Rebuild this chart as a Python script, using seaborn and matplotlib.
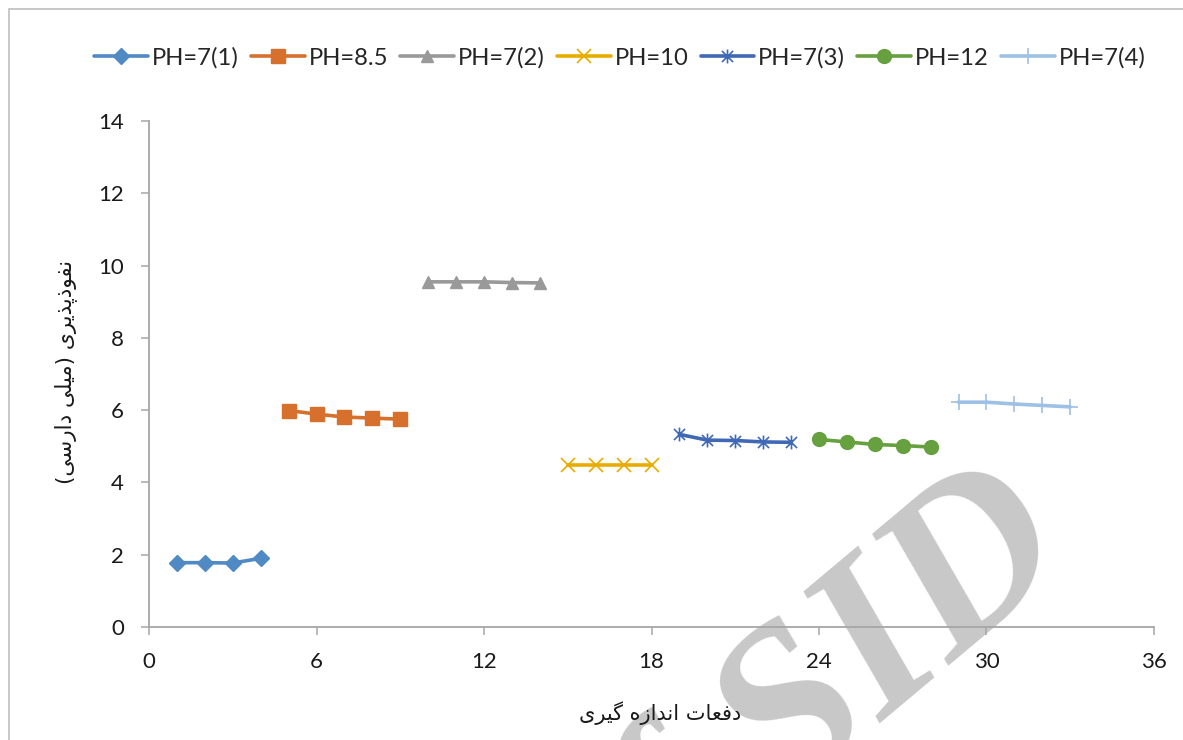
import numpy as np
import pandas as pd
import matplotlib
matplotlib.use("Agg")
import matplotlib.pyplot as plt
from matplotlib.path import Path
from matplotlib.patches import Rectangle
import seaborn as sns

# ---------------- data ----------------
series_names = ["PH=7(1)", "PH=8.5", "PH=7(2)", "PH=10", "PH=7(3)", "PH=12", "PH=7(4)"]
x_ph7_1 = [1, 2, 3, 4]
y_ph7_1 = [1.78, 1.78, 1.77, 1.90]
x_ph8_5 = [5, 6, 7, 8, 9]
y_ph8_5 = [5.99, 5.89, 5.81, 5.78, 5.75]
x_ph7_2 = [10, 11, 12, 13, 14]
y_ph7_2 = [9.55, 9.55, 9.55, 9.53, 9.52]
x_ph10 = [15, 16, 17, 18]
y_ph10 = [4.47, 4.47, 4.47, 4.47]
x_ph7_3 = [19, 20, 21, 22, 23]
y_ph7_3 = [5.33, 5.17, 5.16, 5.12, 5.11]
x_ph12 = [24, 25, 26, 27, 28]
y_ph12 = [5.19, 5.12, 5.05, 5.02, 4.98]
x_ph7_4 = [29, 30, 31, 32, 33]
y_ph7_4 = [6.22, 6.22, 6.17, 6.13, 6.09]

x_ticks = [0, 6, 12, 18, 24, 30, 36]
y_ticks = [0, 2, 4, 6, 8, 10, 12, 14]

# Persian labels (presentation forms in visual order)
x_label = "\uFBFC\uFEAE\uFBFF\uFB94 \uFEE9\uFEAF\uFE8D\uFEAA\uFEE7\uFE8D \uFE95\uFE8E\uFECC\uFED3\uFEA9"
y_label = "(\uFBFD\uFEB3\uFEAD\uFE8D\uFEA9 \uFBFD\uFEE0\uFBFF\uFEE3) \uFBFC\uFEAE\uFBFE\uFEAC\uFB58\uFEAB\uFEEE\uFED4\uFEE7"
watermark = "Archive of SID"

xs = [x_ph7_1, x_ph8_5, x_ph7_2, x_ph10, x_ph7_3, x_ph12, x_ph7_4]
ys = [y_ph7_1, y_ph8_5, y_ph7_2, y_ph10, y_ph7_3, y_ph12, y_ph7_4]

frames = []
for name, xv, yv in zip(series_names, xs, ys):
    frames.append(pd.DataFrame({"run": xv, "perm": yv, "series": name}))
df = pd.concat(frames, ignore_index=True)

# ---------------- style ----------------
sns.set_theme(style="white")
plt.rcParams["font.family"] = ["Lato", "DejaVu Sans"]

colors = ["#4F8AC4", "#D6702C", "#999999", "#E8AC00", "#3F68B5", "#66A03F", "#9DC0E6"]
star = Path([(0, -1), (0, 1), (-0.8, -0.8), (0.8, 0.8), (-0.8, 0.8), (0.8, -0.8)],
            [Path.MOVETO, Path.LINETO, Path.MOVETO, Path.LINETO, Path.MOVETO, Path.LINETO])
markers = ["D", "s", "^", "x", star, "o", "+"]
msizes = [8.5, 9.5, 9, 10, 10, 10, 11]
mews = [1, 1, 1, 1.2, 1.2, 1, 1.2]

fig = plt.figure(figsize=(11.83, 7.40), dpi=100)
ax = fig.add_axes([149 / 1183, 1 - 627 / 740, (1154 - 149) / 1183, (627 - 121) / 740])
ax.patch.set_alpha(0)

for i, name in enumerate(series_names):
    sub = df[df["series"] == name]
    sns.lineplot(data=sub, x="run", y="perm", ax=ax, color=colors[i], marker=markers[i],
                 markersize=msizes[i], markeredgecolor=colors[i], markerfacecolor=colors[i],
                 markeredgewidth=mews[i], linewidth=2.6, label=name, zorder=3)

ax.set_xlim(0, 36)
ax.set_ylim(0, 14)
ax.set_xticks(x_ticks)
ax.set_yticks(y_ticks)
for s in ["top", "right"]:
    ax.spines[s].set_visible(False)
for s in ["left", "bottom"]:
    ax.spines[s].set_color("#a6a6a6")
    ax.spines[s].set_linewidth(1.3)
ax.tick_params(axis="both", direction="out", length=6, width=1.1, color="#a6a6a6",
               labelsize=16, labelcolor="#1a1a1a", pad=12, bottom=True, left=True)

ax.set_xlabel(x_label, fontsize=15, color="#1a1a1a", family=["DejaVu Sans"])
ax.xaxis.set_label_coords((660 - 149) / 1005, (627 - 713) / 506)
ax.xaxis.label.set_va("center")
ax.set_ylabel(y_label, fontsize=15.5, color="#1a1a1a", family=["DejaVu Sans"])
ax.yaxis.set_label_coords((66 - 149) / 1005, (627 - 372) / 506)
ax.yaxis.label.set_va("center")

leg = ax.legend(loc="center", bbox_to_anchor=(620 / 1183, 1 - 58 / 740),
                bbox_transform=fig.transFigure, ncol=7, frameon=False, fontsize=17.2,
                handlelength=2.25, handletextpad=0.17, columnspacing=0.5)

# watermark
ax.text(1080 / 1183, 1 - 565 / 740, watermark, transform=fig.transFigure,
        rotation=40, rotation_mode="anchor", ha="right", va="baseline",
        fontsize=165, family=["Liberation Serif"], style="italic", weight="bold",
        color="#c8c8c8", zorder=0.1, clip_on=False)

# outer chart frame
fig.patches.append(Rectangle((9 / 1183, -0.1), 2, (740 - 9) / 740 + 0.1,
                             transform=fig.transFigure, fill=False,
                             edgecolor="#bfbfbf", linewidth=1.2, zorder=0))

fig.savefig("out.png", dpi=100)
